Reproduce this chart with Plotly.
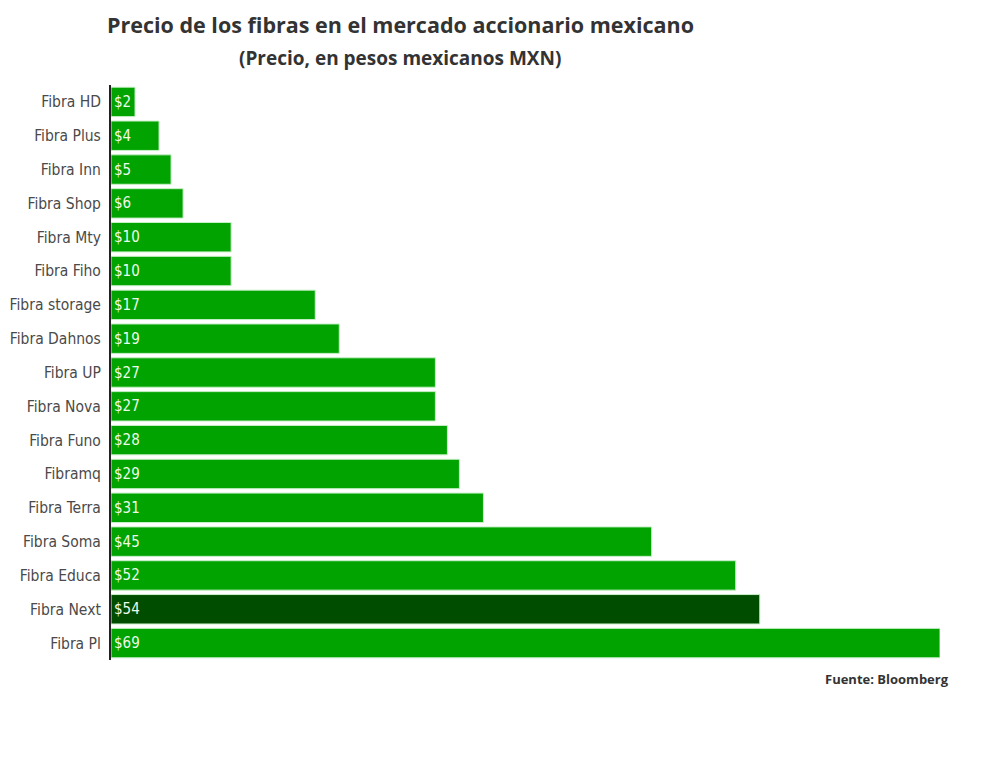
import plotly.graph_objects as go

# Data (top to bottom)
fibras = [
    "Fibra HD", "Fibra Plus", "Fibra Inn", "Fibra Shop", "Fibra Mty",
    "Fibra Fiho", "Fibra storage", "Fibra Dahnos", "Fibra UP", "Fibra Nova",
    "Fibra Funo", "Fibramq", "Fibra Terra", "Fibra Soma", "Fibra Educa",
    "Fibra Next", "Fibra Pl",
]
precios = [2, 4, 5, 6, 10, 10, 17, 19, 27, 27, 28, 29, 31, 45, 52, 54, 69]
destacado = "Fibra Next"

colores = ["#004d00" if f == destacado else "#00a300" for f in fibras]
fuente_cond = "DejaVu Sans Condensed, Liberation Sans Narrow, Open Sans"

# the page body adds an 8px offset, so positions are taken 8px less
OFF = 8
W, H = 1000, 766
L, R, T, B = 111 - OFF, 60 + OFF, 85 - OFF, 106 + OFF
pw, ph = W - L - R, H - T - B


def px_x(p):
    return (p - OFF - L) / pw


def px_y(p):
    return (H - B - (p - OFF)) / ph


fig = go.Figure()
fig.add_trace(go.Bar(
    x=precios,
    y=fibras,
    orientation="h",
    marker=dict(color=colores, line=dict(color="#c8f0c8", width=1)),
    text=[f"${p}" for p in precios],
    textposition="inside",
    insidetextanchor="start",
    textfont=dict(color="#eefbe8", size=15, family=fuente_cond),
    hoverinfo="x+y",
))

fig.update_layout(
    width=W, height=H,
    margin=dict(l=L, r=R, t=T, b=B, autoexpand=False),
    plot_bgcolor="white",
    paper_bgcolor="white",
    bargap=0.13,
    showlegend=False,
    font=dict(family=fuente_cond, color="#555"),
)

fig.add_annotation(
    text="<b>Precio de los fibras en el mercado accionario mexicano</b>",
    x=px_x(400), y=px_y(OFF),
    xref="paper", yref="paper", showarrow=False, xanchor="center", yanchor="top",
    font=dict(family="Open Sans", size=21.5, color="#333"),
)
fig.add_annotation(
    text="<b>(Precio, en pesos mexicanos MXN)</b>",
    x=px_x(400), y=px_y(58),
    xref="paper", yref="paper", showarrow=False, xanchor="center", yanchor="middle",
    font=dict(family="Open Sans", size=19, color="#333"),
)
fig.add_annotation(
    text="<b>Fuente: Bloomberg</b>",
    x=px_x(951), y=px_y(679),
    xref="paper", yref="paper", showarrow=False, xanchor="right", yanchor="middle",
    font=dict(family="Open Sans", size=13, color="#333"),
)

fig.update_xaxes(range=[0, 69], showgrid=False, showticklabels=False,
                 zeroline=False, showline=False, fixedrange=True, automargin=False)
fig.update_yaxes(autorange="reversed", showgrid=False, showline=True,
                 linecolor="#222", linewidth=2, ticks="", ticklabelstandoff=5,
                 automargin=False,
                 tickfont=dict(size=15.5, color="#4a4a4a", family=fuente_cond))

fig.write_html("out.html")
